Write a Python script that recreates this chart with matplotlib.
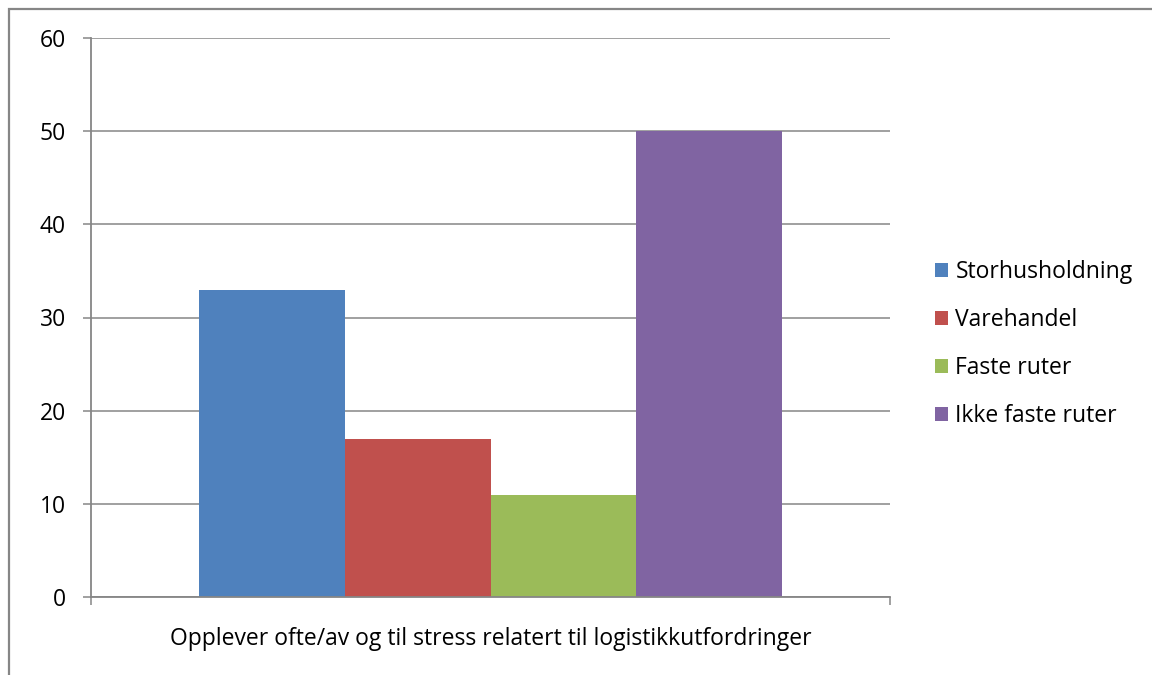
import matplotlib

matplotlib.use("Agg")
import matplotlib.pyplot as plt
from matplotlib.patches import Rectangle
import numpy as np

plt.rcParams["font.family"] = "Open Sans"
plt.rcParams["font.size"] = 16.5

# Data
category = "Opplever ofte/av og til stress relatert til logistikkutfordringer"
series = ["Storhusholdning", "Varehandel", "Faste ruter", "Ikke faste ruter"]
values = [33, 17, 11, 50]
colors = ["#4F81BD", "#C0504D", "#9BBB59", "#8064A2"]
yticks = [0, 10, 20, 30, 40, 50, 60]

grey = "#868686"

fig = plt.figure(figsize=(11.52, 6.75), dpi=100)
ax = fig.add_axes([91 / 1152, 1 - 597 / 675, 799 / 1152, 559 / 675])

# Chart border
fig.patches.append(
    Rectangle((9 / 1152, -0.05), 1.2, 1 - 9 / 675 + 0.05, transform=fig.transFigure,
              fill=False, edgecolor=grey, linewidth=1.6, zorder=0)
)

w = 0.1825
offsets = (np.arange(len(series)) - 1.5) * w
for off, v, c, name in zip(offsets, values, colors, series):
    ax.bar(off, v, width=w, color=c, label=name, zorder=3)

ax.set_xlim(-0.5, 0.5)
ax.set_ylim(0, 60)
ax.set_yticks(yticks)
ax.set_xticks([-0.5, 0.5])
ax.set_xticklabels(["", ""])
ax.set_xlabel(category, labelpad=12)

ax.yaxis.grid(True, color=grey, linewidth=1.1, zorder=0)
ax.set_axisbelow(True)
for s in ["top", "right"]:
    ax.spines[s].set_visible(False)
for s in ["left", "bottom"]:
    ax.spines[s].set_color(grey)
    ax.spines[s].set_linewidth(1.3)
    ax.spines[s].set_zorder(4)
ax.tick_params(axis="both", colors=grey, length=6, width=1.1, labelcolor="black")
ax.tick_params(axis="y", pad=12)

leg = ax.legend(loc="center left", bbox_to_anchor=(1.056, 0.4526), frameon=False,
                handlelength=0.6, handleheight=0.6, handletextpad=0.3,
                labelspacing=1.05, borderaxespad=0, borderpad=0)

fig.savefig("out.png", dpi=100)
